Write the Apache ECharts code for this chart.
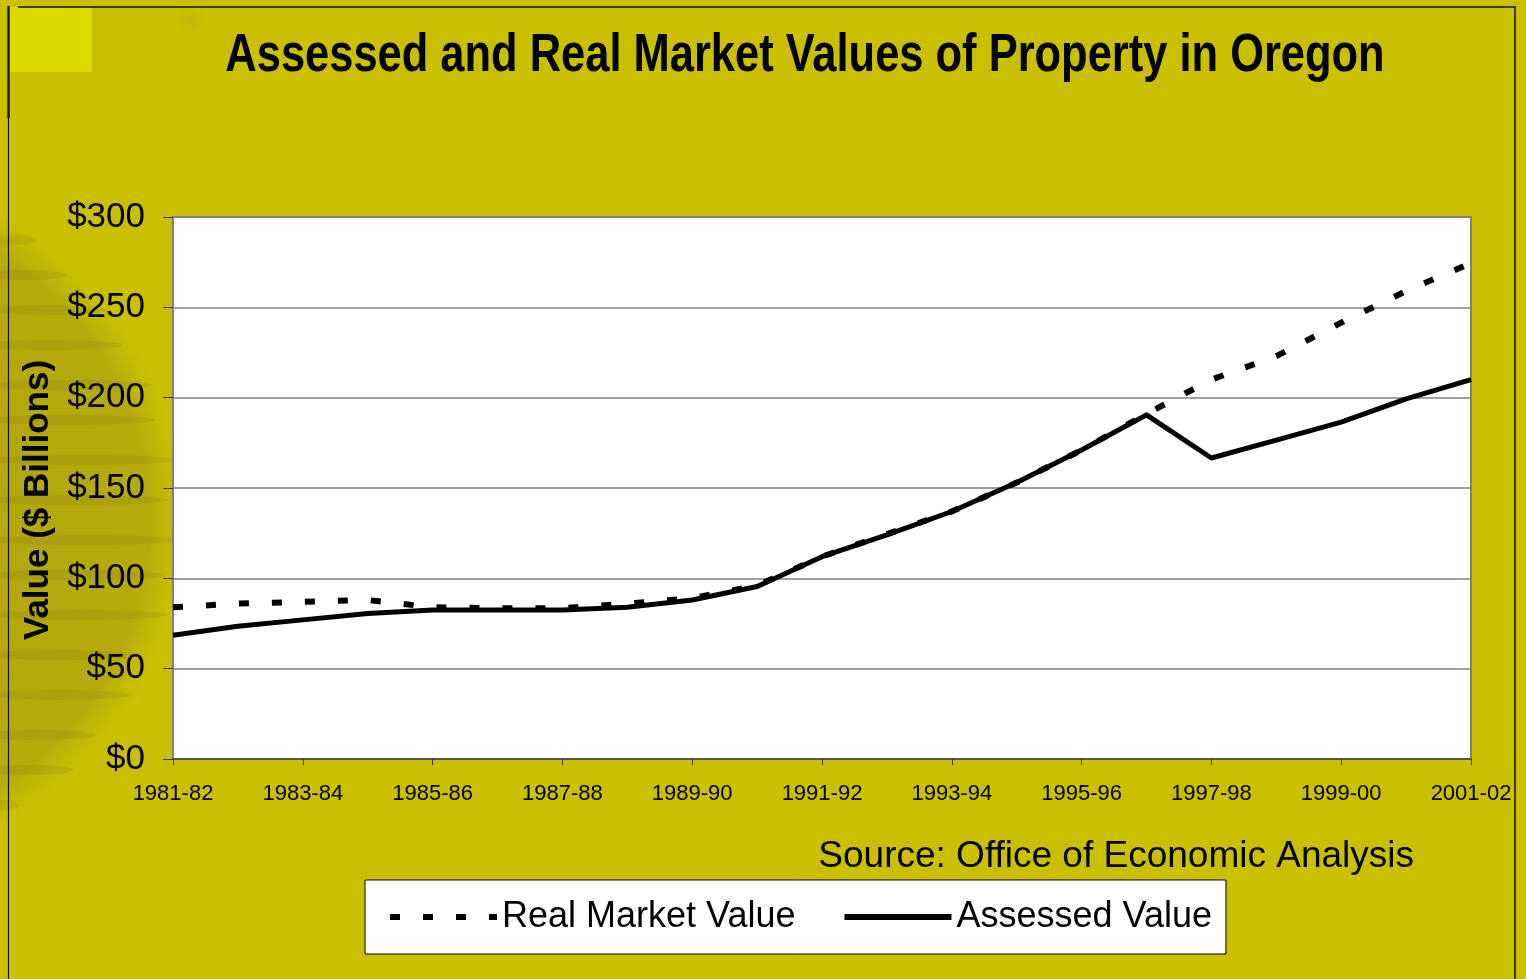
<!DOCTYPE html>
<html>
<head>
<meta charset="utf-8">
<script src="https://cdn.jsdelivr.net/npm/echarts@6/dist/echarts.min.js"></script>
<style>
html,body{margin:0;padding:0;background:#CBC000;}
#chart{width:1526px;height:979px;}
</style>
</head>
<body>
<div id="chart"></div>
<script>
const years = ['1981-82','1982-83','1983-84','1984-85','1985-86','1986-87','1987-88','1988-89','1989-90','1990-91','1991-92','1992-93','1993-94','1994-95','1995-96','1996-97','1997-98','1998-99','1999-00','2000-01','2001-02'];
const realMarketValue = [84, 86, 87, 88, 84, 83.5, 83.5, 86, 89, 96, 112, 124.5, 137, 153, 171, 191, 210, 223, 241.5, 259, 274.5];
const assessedValue = [68.5, 73.5, 77, 80.5, 82.5, 82.5, 82.5, 84, 88, 95.5, 112, 124, 137, 153, 171, 190.5, 166.6, 176.5, 186.5, 199.3, 210];
const yTicks = [0, 50, 100, 150, 200, 250, 300];

const FONT = '"Liberation Sans", Arial, sans-serif';

// decorative background texture (not data)
const TEX = {cx: -160, cy: 520, r: 345};
const streaks = [];
const streakYs = [240, 275, 310, 345, 385, 420, 460, 500, 540, 575, 615, 655, 695, 735, 770, 805];
streakYs.forEach((y, i) => {
  const dy = y - TEX.cy;
  const xmax = TEX.cx + Math.sqrt(Math.max(0, TEX.r * TEX.r - dy * dy)) - 15;
  if (xmax < 10) return;
  streaks.push({type: 'ellipse', silent: true, z: -9,
    shape: {cx: xmax / 2 - (i % 2) * 10, cy: y, rx: xmax / 2 + 10, ry: 5},
    style: {fill: 'rgba(130,120,20,0.16)', shadowBlur: 10, shadowColor: 'rgba(130,120,20,0.25)'}});
});

const chart = echarts.init(document.getElementById('chart'));
chart.setOption({
  backgroundColor: '#CBC000',
  animation: false,
  legend: {
    data: ['Real Market Value', 'Assessed Value'],
    left: 365, top: 880,
    backgroundColor: '#fff', borderColor: '#000', borderWidth: 1,
    padding: [14, 14, 14, 22],
    itemWidth: 107, itemHeight: 14, itemGap: 46,
    itemStyle: {opacity: 0},
    lineStyle: {width: 6, cap: 'butt'},
    textStyle: {fontFamily: FONT, fontSize: 36, color: '#000', lineHeight: 46}
  },
  grid: {
    left: 173, right: 55, top: 217, bottom: 220,
    show: true, backgroundColor: '#fff', borderColor: '#808080', borderWidth: 2
  },
  xAxis: {
    type: 'category', data: years, boundaryGap: false,
    axisLine: {lineStyle: {color: '#555', width: 2}},
    axisTick: {show: true, interval: 1, length: 6, lineStyle: {color: '#333'}},
    axisLabel: {interval: 1, margin: 24, fontFamily: FONT, fontSize: 22, color: '#000'},
    splitLine: {show: false}
  },
  yAxis: {
    type: 'value', min: 0, max: 300, interval: 50,
    axisLine: {show: true, lineStyle: {color: '#808080', width: 2}},
    axisTick: {show: true, length: 10, lineStyle: {color: '#333'}},
    axisLabel: {margin: 28, fontFamily: FONT, fontSize: 35, color: '#000',
      formatter: v => yTicks.indexOf(v) >= 0 ? '$' + v : ''},
    splitLine: {lineStyle: {color: '#808080', width: 1.5}}
  },
  series: [
    {
      name: 'Assessed Value', type: 'line', data: assessedValue,
      symbol: 'none', z: 2, color: '#000',
      lineStyle: {color: '#000', width: 5, join: 'round'}
    },
    {
      name: 'Real Market Value', type: 'line', data: realMarketValue,
      symbol: 'none', z: 3, color: '#000',
      lineStyle: {color: '#000', width: 6, type: [10, 23], cap: 'butt'}
    }
  ],
  graphic: [
    {type: 'circle', silent: true, z: -10, shape: {cx: TEX.cx, cy: TEX.cy, r: TEX.r},
      style: {fill: new echarts.graphic.RadialGradient(0.5, 0.5, 0.5, [
        {offset: 0, color: 'rgba(150,140,30,0.55)'},
        {offset: 0.9, color: 'rgba(160,150,20,0.5)'},
        {offset: 1, color: 'rgba(180,170,10,0)'}])}},
    ...streaks,
    {type: 'ellipse', silent: true, z: -10, shape: {cx: 190, cy: 20, rx: 140, ry: 22},
      style: {fill: new echarts.graphic.RadialGradient(0.5, 0.5, 0.5, [
        {offset: 0, color: 'rgba(170,160,40,0.3)'},
        {offset: 1, color: 'rgba(200,190,0,0)'}])}},
    {type: 'rect', silent: true, z: -5, shape: {x: 10, y: 7, width: 82, height: 65}, style: {fill: '#DEDA00'}},
    {type: 'line', silent: true, shape: {x1: 18, y1: 7, x2: 1516, y2: 7}, style: {stroke: '#111', lineWidth: 1.5}},
    {type: 'line', silent: true, shape: {x1: 8.5, y1: 6, x2: 8.5, y2: 979}, style: {stroke: '#111', lineWidth: 1.2}},
    {type: 'line', silent: true, shape: {x1: 8.5, y1: 6, x2: 8.5, y2: 118}, style: {stroke: '#111', lineWidth: 2.2}},
    {type: 'line', silent: true, shape: {x1: 1515, y1: 7, x2: 1515, y2: 979}, style: {stroke: '#111', lineWidth: 1.5}},
    {type: 'text', silent: true, x: 805, y: 56, scaleX: 0.82,
      style: {text: 'Assessed and Real Market Values of Property in Oregon', fontFamily: FONT,
        fontWeight: 'bold', fontSize: 53, fill: '#000', align: 'center', verticalAlign: 'middle'}},
    {type: 'text', silent: true, x: 38, y: 500, rotation: Math.PI / 2,
      style: {text: 'Value ($ Billions)', fontFamily: FONT, fontWeight: 'bold', fontSize: 35,
        fill: '#000', align: 'center', verticalAlign: 'middle'}},
    {type: 'text', silent: true, x: 1414, y: 857,
      style: {text: 'Source: Office of Economic Analysis', fontFamily: FONT, fontSize: 37,
        fill: '#000', align: 'right', verticalAlign: 'middle'}}
  ]
});
</script>
</body>
</html>
